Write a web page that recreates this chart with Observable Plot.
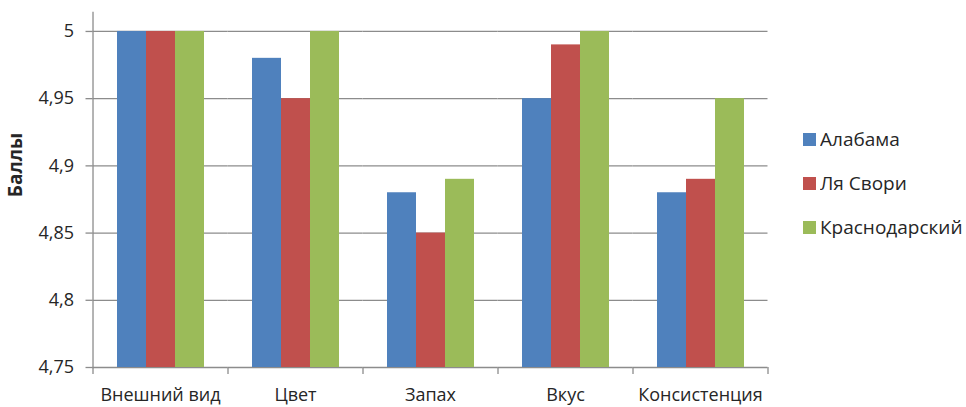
<!DOCTYPE html>
<html lang="ru">
<head>
<meta charset="utf-8">
<script src="https://cdn.jsdelivr.net/npm/d3@7"></script>
<script src="https://cdn.jsdelivr.net/npm/@observablehq/plot@0.6"></script>
<style>
  html, body { margin: 0; padding: 0; background: #fff; }
  #wrap { position: relative; width: 966px; height: 407px; font-family: "Open Sans", sans-serif; color: #262626; }
  #ylabel { position: absolute; left: 15px; top: 165px; transform: translate(-50%, -50%) rotate(-90deg);
            font-weight: bold; font-size: 19px; white-space: nowrap; }
  #legend { position: absolute; left: 803px; top: 126px; }
  .lg-swatches { font-family: "Open Sans", sans-serif; font-size: 19px; color: #262626; }
  .lg-swatches-columns .lg-swatch { margin-bottom: 17px; align-items: center; }
  .lg-swatches-columns .lg-swatch svg { margin-right: 4px; }
</style>
</head>
<body>
<div id="wrap">
  <div id="chart"></div>
  <div id="ylabel"></div>
  <div id="legend"></div>
</div>
<script>
// Оценки сортов по показателям (баллы)
const categories = ["Внешний вид", "Цвет", "Запах", "Вкус", "Консистенция"];
const seriesNames = ["Алабама", "Ля Свори", "Краснодарский"];
const alabama      = [5.00, 4.98, 4.88, 4.95, 4.88];
const lyaSvori     = [5.00, 4.95, 4.85, 4.99, 4.89];
const krasnodarsky = [5.00, 5.00, 4.89, 5.00, 4.95];
const yTicks = [4.75, 4.8, 4.85, 4.9, 4.95, 5];
const yTitle = "Баллы";
const colors = ["#4F81BD", "#C0504D", "#9BBB59"];

const seriesValues = [alabama, lyaSvori, krasnodarsky];
const rows = categories.flatMap((c, i) =>
  seriesNames.map((s, j) => ({category: c, series: s, value: seriesValues[j][i]})));

const yMin = yTicks[0];
const gridColor = "#8c8c8c";
const fmt = d => String(d).replace(".", ",");

// геометрия панели и групп
const width = 790, marginLeft = 93, marginRight = 22;
const padInner = 0.348, padOuter = padInner / 2;
const n = categories.length;
const step = (width - marginLeft - marginRight) / (n - padInner + 2 * padOuter);
const gap = padOuter * step; // половина промежутка между группами

const plot = Plot.plot({
  width,
  height: 407,
  marginLeft,
  marginRight,
  marginTop: 12,
  marginBottom: 40,
  style: {fontFamily: "Open Sans, sans-serif", fontSize: "18px", color: "#262626", background: "#fff"},
  fx: {domain: categories, paddingInner: padInner, paddingOuter: padOuter, axis: null},
  x: {domain: seriesNames, padding: 0, axis: null},
  y: {domain: [yMin, 5.0141], axis: null},
  color: {domain: seriesNames, range: colors},
  marks: [
    // линии сетки сплошные через все группы
    Plot.ruleY(yTicks, {y: d => d, stroke: gridColor, strokeWidth: 1.3, insetLeft: -gap, insetRight: -gap}),
    // вертикальная ось
    Plot.frame({anchor: "left", facetAnchor: "left", insetLeft: -gap, stroke: gridColor, strokeWidth: 1.3}),
    Plot.barY(rows, {fx: "category", x: "series", y1: yMin, y2: "value", fill: "series"}),
    Plot.axisY({ticks: yTicks, tickFormat: fmt, tickSize: 7, tickPadding: 12, stroke: gridColor,
                strokeWidth: 1.3, label: null, fontSize: 18, dx: -gap}),
    Plot.axisFx({anchor: "bottom", tickSize: 0, tickPadding: 21, label: null, fontSize: 18})
  ]
});

// засечки на границах категорий под осью
const fx = plot.scale("fx");
const yScale = plot.scale("y");
const y0 = yScale.apply(yMin);
d3.select(plot).append("g")
  .attr("stroke", gridColor)
  .attr("stroke-width", 1.3)
  .selectAll("line")
  .data(d3.range(n + 1))
  .join("line")
  .attr("x1", i => fx.range[0] + i * step)
  .attr("x2", i => fx.range[0] + i * step)
  .attr("y1", y0)
  .attr("y2", y0 + 7);

document.getElementById("chart").append(plot);
document.getElementById("ylabel").textContent = yTitle;

const legend = Plot.legend({
  color: {domain: seriesNames, range: colors},
  legend: "swatches",
  columns: 1,
  swatchSize: 13,
  className: "lg"
});
document.getElementById("legend").append(legend);
</script>
</body>
</html>
